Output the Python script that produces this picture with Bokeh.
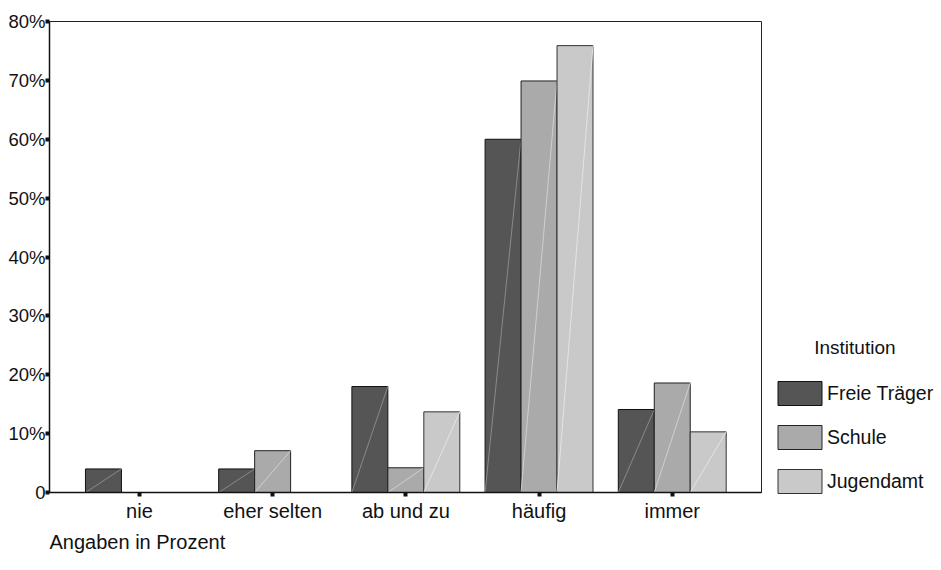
from bokeh.plotting import figure
from bokeh.models import (Range1d, FixedTicker, Legend, LegendItem, Title,
                          ColumnDataSource)
from bokeh.embed import file_html
from bokeh.resources import INLINE

categories = ["nie", "eher selten", "ab und zu", "häufig", "immer"]
series_names = ["Freie Träger", "Schule", "Jugendamt"]
freie_traeger = [4.0, 4.0, 18.0, 60.0, 14.1]
schule = [0.0, 7.1, 4.2, 69.9, 18.6]
jugendamt = [0.0, 0.0, 13.7, 75.9, 10.3]
y_ticks = [0, 10, 20, 30, 40, 50, 60, 70, 80]
y_tick_labels = ["0", "10%", "20%", "30%", "40%", "50%", "60%", "70%", "80%"]
legend_title = "Institution"
x_note = "Angaben in Prozent"

fills = ["#555555", "#aaaaaa", "#c9c9c9"]
diag = ["#8a8a8a", "#cfcfcf", "#e4e4e4"]
outlines = ["#111111", "#222222", "#333333"]
offsets = [-0.27, 0.0, 0.27]
bar_w = 0.27

FONT = "Liberation Sans"
FW, FH = 712, 471
X0, X1 = -0.675, 4.67

p = figure(frame_width=FW, frame_height=FH, output_backend="svg",
           toolbar_location=None,
           x_range=Range1d(X0, X1), y_range=Range1d(0, 80),
           min_border_left=49, min_border_top=21, min_border_bottom=60,
           min_border_right=177)
p.xgrid.visible = False
p.ygrid.visible = False
p.outline_line_color = "#222222"
p.outline_line_width = 1

items = []
for vals, name, fc, dc, oc, off in zip([freie_traeger, schule, jugendamt], series_names,
                                       fills, diag, outlines, offsets):
    xs = [i + off for i in range(len(categories))]
    src = ColumnDataSource(dict(
        x=xs, top=vals,
        x0=[x - bar_w / 2 for x in xs], y0=[0] * len(xs),
        x1=[x + bar_w / 2 for x in xs], y1=vals))
    r = p.vbar(x="x", top="top", bottom=0, width=bar_w, source=src,
               fill_color=fc, line_color=oc, line_width=1)
    p.segment(x0="x0", y0="y0", x1="x1", y1="y1", source=src,
              line_color=dc, line_width=1)
    items.append(LegendItem(label=name, renderers=[r]))

# legend glyph boxes are drawn at 80% of glyph_width/height
legend = Legend(items=items, title="\u00a0" * 8 + legend_title, location=(11, -4),
                glyph_width=55, glyph_height=30, label_height=30,
                spacing=14, padding=0, margin=0, label_standoff=0,
                title_standoff=19,
                border_line_color=None, background_fill_alpha=0,
                label_text_font=FONT, label_text_font_size="19.5px",
                label_text_color="#111111",
                title_text_font=FONT, title_text_font_size="19px",
                title_text_color="#111111", title_text_font_style="normal")
p.add_layout(legend, "right")

# axes
p.xaxis.ticker = FixedTicker(ticks=list(range(len(categories))))
p.xaxis.major_label_overrides = {i: c for i, c in enumerate(categories)}
p.yaxis.ticker = FixedTicker(ticks=y_ticks)
p.yaxis.major_label_overrides = {t: l for t, l in zip(y_ticks, y_tick_labels)}
for ax in (p.xaxis[0], p.yaxis[0]):
    ax.axis_line_color = "#111111"
    ax.axis_line_width = 1.5
    ax.major_tick_line_color = "#111111"
    ax.major_tick_line_width = 4
    ax.major_tick_in = 0
    ax.major_tick_out = 4
    ax.minor_tick_line_color = None
    ax.major_label_text_font = FONT
    ax.major_label_text_color = "#111111"
p.xaxis.major_label_text_font_size = "20px"
p.yaxis.major_label_text_font_size = "18.5px"
p.xaxis.major_label_standoff = 3
p.yaxis.major_label_standoff = 0

p.add_layout(Title(text=x_note, align="left", text_font=FONT,
                   text_font_size="20px", text_font_style="normal",
                   text_color="#111111", standoff=9), "below")

open("out.html", "w").write(file_html(p, INLINE))
